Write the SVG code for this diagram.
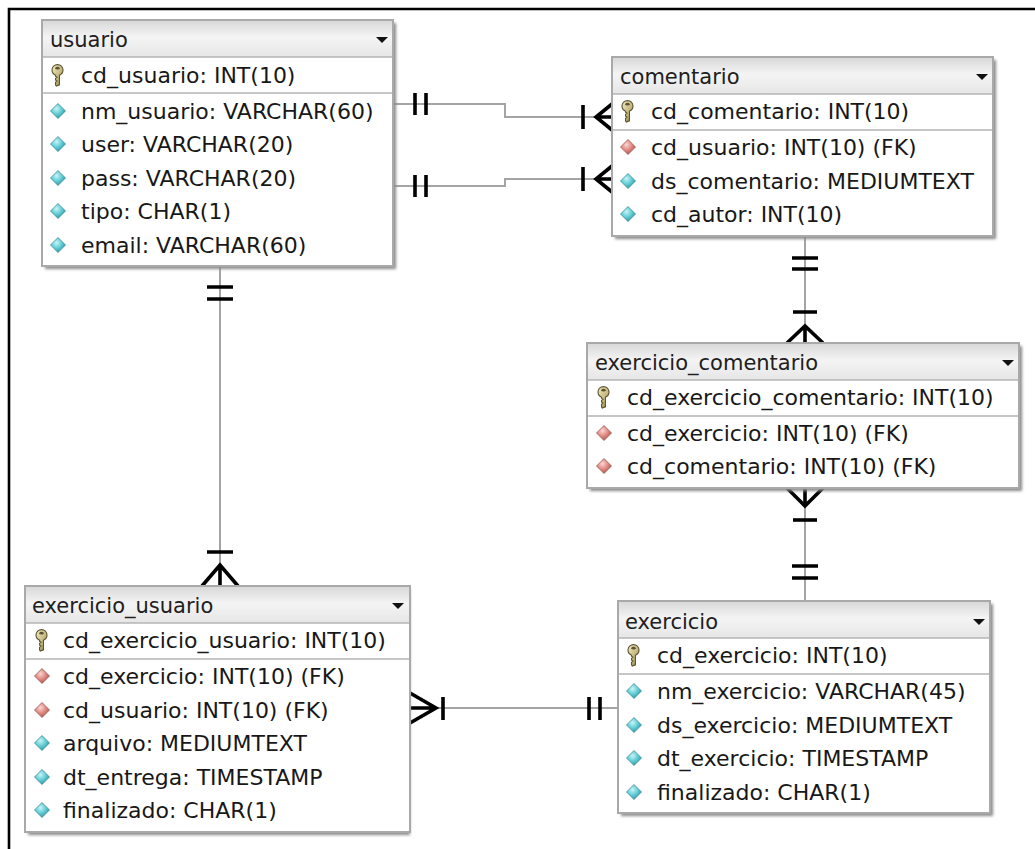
<svg xmlns="http://www.w3.org/2000/svg" width="1035" height="849" viewBox="0 0 1035 849">
  <defs>
    <linearGradient id="hdr" x1="0" y1="0" x2="0" y2="1">
      <stop offset="0" stop-color="#d9d9d9"/>
      <stop offset="0.45" stop-color="#f4f4f4"/>
      <stop offset="1" stop-color="#e6e6e6"/>
    </linearGradient>
    <radialGradient id="cyan" cx="0.4" cy="0.35" r="0.7">
      <stop offset="0" stop-color="#c8f4f6"/>
      <stop offset="0.5" stop-color="#62cdd6"/>
      <stop offset="1" stop-color="#2c8f9a"/>
    </radialGradient>
    <radialGradient id="red" cx="0.4" cy="0.35" r="0.7">
      <stop offset="0" stop-color="#fbd6d2"/>
      <stop offset="0.5" stop-color="#e08a82"/>
      <stop offset="1" stop-color="#a8504a"/>
    </radialGradient>
    <linearGradient id="gold" x1="0" y1="0" x2="1" y2="1">
      <stop offset="0" stop-color="#f2ecc4"/>
      <stop offset="0.6" stop-color="#c2b47a"/>
      <stop offset="1" stop-color="#7a6c3c"/>
    </linearGradient>
    <filter id="shadow" x="-5%" y="-5%" width="115%" height="115%">
      <feGaussianBlur stdDeviation="1.6"/>
    </filter>
    <symbol id="attr" viewBox="-8 -8 16 16" overflow="visible">
      <path d="M0,-7.5 L7.5,0 L0,7.5 L-7.5,0 Z" fill="url(#cyan)" stroke="#3f8f98" stroke-width="0.8"/>
    </symbol>
    <symbol id="fk" viewBox="-8 -8 16 16" overflow="visible">
      <path d="M0,-7.5 L7.5,0 L0,7.5 L-7.5,0 Z" fill="url(#red)" stroke="#9a5a55" stroke-width="0.8"/>
    </symbol>
    <symbol id="key" viewBox="-5 -9 10 18" overflow="visible">
      <path d="M-4.5,-4 A4.5,4.5 0 1 1 4.5,-4 A4.5,4.5 0 0 1 1.6,0.2 L1.6,8 L-1,9 L-1.6,8 L-1.6,6 L-0.4,5 L-1.6,4 L-1.6,2.6 L-0.4,1.8 L-1.6,1 L-1.6,0.2 A4.5,4.5 0 0 1 -4.5,-4 Z" fill="url(#gold)" stroke="#5c5432" stroke-width="0.9"/>
      <ellipse cx="0" cy="-5.6" rx="1.8" ry="1.1" fill="#5c5432"/>
    </symbol>
  </defs>
  <style>
    .box { fill: #ffffff; stroke: #a9a9a9; stroke-width: 2; }
    .shade { fill: #8a8a8a; filter: url(#shadow); }
    .head { fill: url(#hdr); }
    .sep { stroke: #b4b4b4; stroke-width: 1.6; }
    .title { font-family: "DejaVu Sans", Verdana, sans-serif; font-size: 21px; fill: #202020; }
    .row { font-family: "DejaVu Sans", Verdana, sans-serif; font-size: 22px; fill: #181818; }
    .drop { fill: #111111; }
    .line { fill: none; stroke: #a4a4a4; stroke-width: 2; }
    .mark { fill: none; stroke: #000000; stroke-width: 3.6; stroke-linecap: butt; stroke-linejoin: miter; }
    .frame { stroke: #000000; stroke-width: 2.6; fill: none; }
  </style>

  <rect width="1035" height="849" fill="#ffffff"/>
  <path class="frame" d="M9,849 V9 H1035"/>

  <!-- relationship lines and cardinality marks -->
  <g id="connectors">
    <path class="line" d="M393,104 H505 V117 H612"/>
    <path class="line" d="M393,186 H505 V179 H612"/>
    <path class="line" d="M805,236 V343"/>
    <path class="line" d="M805,488 V601"/>
    <path class="line" d="M220,266 V586"/>
    <path class="line" d="M410,708 H618"/>

    <!-- usuario 1 : N comentario -->
    <path class="mark" d="M415,93 V115 M426,93 V115"/>
    <path class="mark" d="M583,105 V129 M612,104 L596,117 L612,130 M596,117 H612"/>
    <path class="mark" d="M415,175 V197 M426,175 V197"/>
    <path class="mark" d="M583,167 V191 M612,166 L596,179 L612,192 M596,179 H612"/>

    <!-- comentario 1 : N exercicio_comentario -->
    <path class="mark" d="M792,258 H818 M792,269 H818"/>
    <path class="mark" d="M793,312 H817 M787,343 L805,326 L823,343 M805,326 V343"/>

    <!-- exercicio 1 : N exercicio_comentario -->
    <path class="mark" d="M787,488 L805,506 L823,488 M805,488 V506"/>
    <path class="mark" d="M793,520 H817"/>
    <path class="mark" d="M792,566 H818 M792,578 H818"/>

    <!-- usuario 1 : N exercicio_usuario -->
    <path class="mark" d="M207,287 H233 M207,299 H233"/>
    <path class="mark" d="M207,552 H233 M202,586 L220,565 L238,586 M220,565 V586"/>

    <!-- exercicio 1 : N exercicio_usuario -->
    <path class="mark" d="M410,693 L436,708 L410,723 M410,708 H436"/>
    <path class="mark" d="M443,697 V720"/>
    <path class="mark" d="M589,697 V720 M600,697 V720"/>
  </g>

  <!-- usuario -->
  <g id="usuario">
    <rect class="shade" x="45" y="23" width="351" height="246"/>
    <rect class="box" x="42" y="20" width="351" height="246"/>
    <rect class="head" x="43" y="21" width="349" height="36"/>
    <line class="sep" x1="43" y1="57" x2="392" y2="57"/>
    <line class="sep" x1="43" y1="93" x2="392" y2="93"/>
    <text class="title" x="50" y="47">usuario</text>
    <path class="drop" d="M376,37 H388 L382,43 Z"/>
    <use href="#key" x="51" y="64" width="13" height="22"/>
    <text class="row" x="81" y="83">cd_usuario: INT(10)</text>
    <use href="#attr" x="50" y="103" width="16" height="16"/>
    <text class="row" x="81" y="119">nm_usuario: VARCHAR(60)</text>
    <use href="#attr" x="50" y="136" width="16" height="16"/>
    <text class="row" x="81" y="152">user: VARCHAR(20)</text>
    <use href="#attr" x="50" y="170" width="16" height="16"/>
    <text class="row" x="81" y="186">pass: VARCHAR(20)</text>
    <use href="#attr" x="50" y="203" width="16" height="16"/>
    <text class="row" x="81" y="219">tipo: CHAR(1)</text>
    <use href="#attr" x="50" y="237" width="16" height="16"/>
    <text class="row" x="81" y="253">email: VARCHAR(60)</text>
  </g>

  <!-- comentario -->
  <g id="comentario">
    <rect class="shade" x="615" y="60" width="381" height="179"/>
    <rect class="box" x="612" y="57" width="381" height="179"/>
    <rect class="head" x="613" y="58" width="379" height="36"/>
    <line class="sep" x1="613" y1="94" x2="992" y2="94"/>
    <line class="sep" x1="613" y1="130" x2="992" y2="130"/>
    <text class="title" x="620" y="84">comentario</text>
    <path class="drop" d="M976,74 H988 L982,80 Z"/>
    <use href="#key" x="621" y="100" width="13" height="22"/>
    <text class="row" x="651" y="119">cd_comentario: INT(10)</text>
    <use href="#fk" x="620" y="139" width="16" height="16"/>
    <text class="row" x="651" y="155">cd_usuario: INT(10) (FK)</text>
    <use href="#attr" x="620" y="173" width="16" height="16"/>
    <text class="row" x="651" y="189">ds_comentario: MEDIUMTEXT</text>
    <use href="#attr" x="620" y="206" width="16" height="16"/>
    <text class="row" x="651" y="222">cd_autor: INT(10)</text>
  </g>

  <!-- exercicio_comentario -->
  <g id="exercicio_comentario">
    <rect class="shade" x="590" y="346" width="432" height="145"/>
    <rect class="box" x="587" y="343" width="432" height="145"/>
    <rect class="head" x="588" y="344" width="430" height="36"/>
    <line class="sep" x1="588" y1="380" x2="1018" y2="380"/>
    <line class="sep" x1="588" y1="416" x2="1018" y2="416"/>
    <text class="title" x="595" y="370">exercicio_comentario</text>
    <path class="drop" d="M1002,360 H1014 L1008,366 Z"/>
    <use href="#key" x="597" y="386" width="13" height="22"/>
    <text class="row" x="627" y="405">cd_exercicio_comentario: INT(10)</text>
    <use href="#fk" x="596" y="425" width="16" height="16"/>
    <text class="row" x="627" y="441">cd_exercicio: INT(10) (FK)</text>
    <use href="#fk" x="596" y="458" width="16" height="16"/>
    <text class="row" x="627" y="474">cd_comentario: INT(10) (FK)</text>
  </g>

  <!-- exercicio_usuario -->
  <g id="exercicio_usuario">
    <rect class="shade" x="28" y="589" width="382" height="246"/>
    <rect class="box" x="25" y="586" width="385" height="246"/>
    <rect class="head" x="26" y="587" width="383" height="36"/>
    <line class="sep" x1="26" y1="623" x2="409" y2="623"/>
    <line class="sep" x1="26" y1="659" x2="409" y2="659"/>
    <text class="title" x="32" y="613">exercicio_usuario</text>
    <path class="drop" d="M392,603 H404 L398,609 Z"/>
    <use href="#key" x="35" y="629" width="13" height="22"/>
    <text class="row" x="63" y="648">cd_exercicio_usuario: INT(10)</text>
    <use href="#fk" x="34" y="668" width="16" height="16"/>
    <text class="row" x="63" y="684">cd_exercicio: INT(10) (FK)</text>
    <use href="#fk" x="34" y="702" width="16" height="16"/>
    <text class="row" x="63" y="718">cd_usuario: INT(10) (FK)</text>
    <use href="#attr" x="34" y="735" width="16" height="16"/>
    <text class="row" x="63" y="751">arquivo: MEDIUMTEXT</text>
    <use href="#attr" x="34" y="769" width="16" height="16"/>
    <text class="row" x="63" y="785">dt_entrega: TIMESTAMP</text>
    <use href="#attr" x="34" y="802" width="16" height="16"/>
    <text class="row" x="63" y="818">finalizado: CHAR(1)</text>
  </g>

  <!-- exercicio -->
  <g id="exercicio">
    <rect class="shade" x="621" y="604" width="372" height="212"/>
    <rect class="box" x="618" y="601" width="372" height="212"/>
    <rect class="head" x="619" y="602" width="370" height="36"/>
    <line class="sep" x1="619" y1="638" x2="989" y2="638"/>
    <line class="sep" x1="619" y1="674" x2="989" y2="674"/>
    <text class="title" x="625" y="629">exercicio</text>
    <path class="drop" d="M973,619 H985 L979,625 Z"/>
    <use href="#key" x="627" y="644" width="13" height="22"/>
    <text class="row" x="657" y="663">cd_exercicio: INT(10)</text>
    <use href="#attr" x="626" y="683" width="16" height="16"/>
    <text class="row" x="657" y="699">nm_exercicio: VARCHAR(45)</text>
    <use href="#attr" x="626" y="717" width="16" height="16"/>
    <text class="row" x="657" y="733">ds_exercicio: MEDIUMTEXT</text>
    <use href="#attr" x="626" y="750" width="16" height="16"/>
    <text class="row" x="657" y="766">dt_exercicio: TIMESTAMP</text>
    <use href="#attr" x="626" y="784" width="16" height="16"/>
    <text class="row" x="657" y="800">finalizado: CHAR(1)</text>
  </g>
</svg>
